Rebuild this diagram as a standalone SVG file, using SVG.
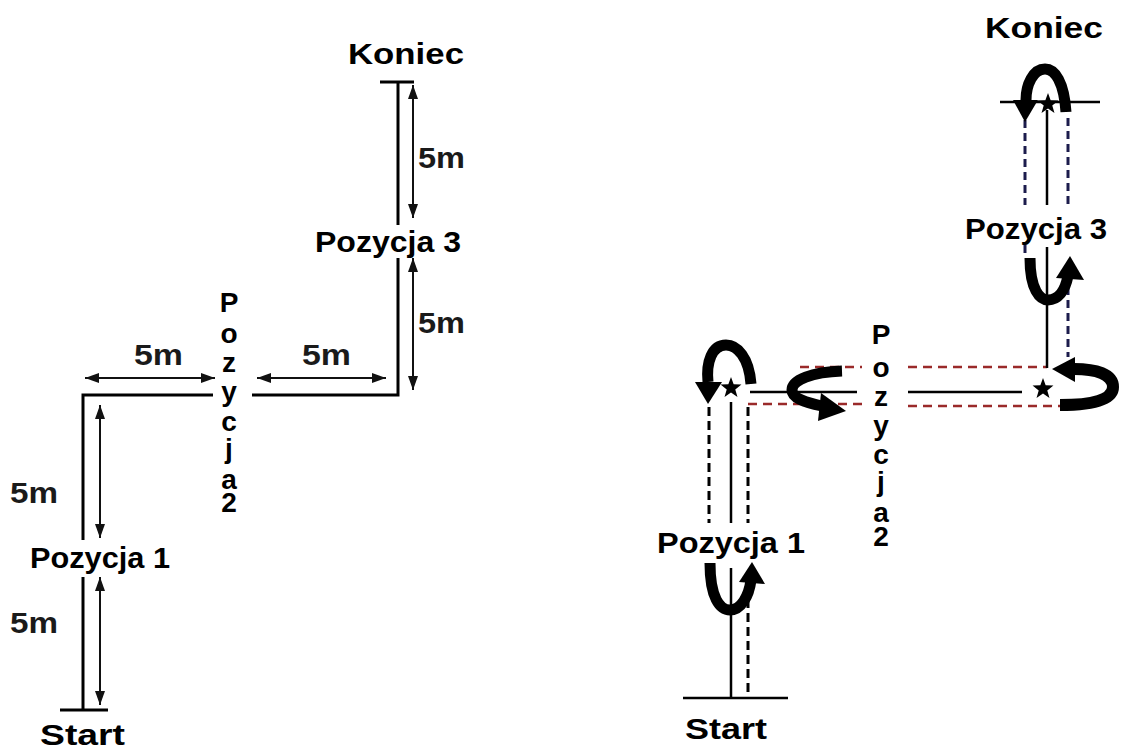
<svg xmlns="http://www.w3.org/2000/svg" xmlns:xlink="http://www.w3.org/1999/xlink" width="1129" height="753" viewBox="0 0 1129 753">
<style>
.t{font-family:"Liberation Sans",Arial,sans-serif;font-weight:bold;font-size:30px;fill:#000}
.m{font-family:"Liberation Sans",Arial,sans-serif;font-weight:bold;font-size:30px;fill:#1a1a1a}
.v{font-family:"Liberation Sans",Arial,sans-serif;font-weight:bold;font-size:28px;fill:#000;text-anchor:middle}
.ln{stroke:#000;stroke-width:3;fill:none}
.ln2{stroke:#000;stroke-width:2.5;fill:none}
.dim{stroke:#111;stroke-width:2;fill:none;marker-start:url(#ah);marker-end:url(#ah)}
.bd{stroke:#000;stroke-width:3;fill:none;stroke-dasharray:9 5}
.nd{stroke:#1c1c4c;stroke-width:3;fill:none;stroke-dasharray:8 5}
.rd{stroke:#9a2a2a;stroke-width:2.5;fill:none;stroke-dasharray:9 6}
.thick{stroke:#000;stroke-width:11;fill:none}
</style>
<defs>
<marker id="ah" viewBox="0 0 14 10" refX="14" refY="5" markerWidth="14" markerHeight="10" markerUnits="userSpaceOnUse" orient="auto-start-reverse"><path d="M0,0 L14,5 L0,10 z" fill="#111"/></marker>
<path id="star" d="M0,-11 L2.65,-3.64 L10.46,-3.4 L4.28,1.39 L6.47,8.9 L0,4.5 L-6.47,8.9 L-4.28,1.39 L-10.46,-3.4 L-2.65,-3.64 Z" fill="#000"/>
</defs>

<!-- LEFT DIAGRAM -->
<g id="connectors-left">
<path class="ln" d="M60 710 H108"/>
<path class="ln" d="M83 710 V577"/>
<path class="ln" d="M83 540 V395 H213"/>
<path class="ln" d="M252 395 H398 V258"/>
<path class="ln" d="M398 225 V82"/>
<path class="ln" d="M380 82 H414"/>
<path class="dim" d="M100 577 V705"/>
<path class="dim" d="M100 405 V538"/>
<path class="dim" d="M85 378 H215"/>
<path class="dim" d="M257 378 H386"/>
<path class="dim" d="M413 258 V390"/>
<path class="dim" d="M413 85 V218"/>
</g>
<g id="labels-left">
<text class="m" x="10" y="503" textLength="48" lengthAdjust="spacingAndGlyphs">5m</text>
<text class="m" x="10" y="633" textLength="48" lengthAdjust="spacingAndGlyphs">5m</text>
<text class="m" x="134" y="365" textLength="49" lengthAdjust="spacingAndGlyphs">5m</text>
<text class="m" x="302" y="365" textLength="49" lengthAdjust="spacingAndGlyphs">5m</text>
<text class="m" x="418" y="168" textLength="47" lengthAdjust="spacingAndGlyphs">5m</text>
<text class="m" x="418" y="333" textLength="47" lengthAdjust="spacingAndGlyphs">5m</text>
</g>
<g id="node-start-left"><text class="t" x="40" y="745" textLength="85" lengthAdjust="spacingAndGlyphs">Start</text></g>
<g id="node-poz1-left"><text class="t" x="30" y="568" textLength="140" lengthAdjust="spacingAndGlyphs">Pozycja 1</text></g>
<g id="node-poz2-left">
<text class="v" x="229" y="312">P</text>
<text class="v" x="229" y="343">o</text>
<text class="v" x="229" y="372">z</text>
<text class="v" x="229" y="401">y</text>
<text class="v" x="229" y="431">c</text>
<text class="v" x="229" y="458">j</text>
<text class="v" x="229" y="489">a</text>
<text class="v" x="229" y="512">2</text>
</g>
<g id="node-poz3-left"><text class="t" x="315" y="252" textLength="146" lengthAdjust="spacingAndGlyphs">Pozycja 3</text></g>
<g id="node-koniec-left"><text class="t" x="348" y="64" textLength="116" lengthAdjust="spacingAndGlyphs">Koniec</text></g>

<!-- RIGHT DIAGRAM -->
<g id="connectors-right">
<path class="ln2" d="M683 698 H788"/>
<path class="ln2" d="M731 698 V568"/>
<path class="ln2" d="M731 523 V402"/>
<path class="bd" d="M709 407 V523"/>
<path class="bd" d="M748 407 V523"/>
<path class="bd" d="M748 585 V698"/>
<path class="ln2" d="M750 392 H857"/>
<path class="ln2" d="M908 392 H1022"/>
<path class="rd" d="M748 404 H862"/>
<path class="rd" d="M800 367 H862"/>
<path class="rd" d="M908 367 H1047"/>
<path class="rd" d="M908 406 H1060"/>
<path class="ln2" d="M1047 368 V247"/>
<path class="ln2" d="M1047 205 V110"/>
<path class="ln2" d="M1000 102 H1100"/>
<path class="nd" d="M1025 120 V205"/>
<path class="nd" d="M1025 245 V258"/>
<path class="nd" d="M1068 118 V205"/>
<path class="nd" d="M1068 287 V357"/>
</g>
<g id="turns-right">
<path class="thick" d="M710 563 C710 598 720 610 730 610 C741 610 749 596 751 580"/>
<polygon points="739,582 752,562 765,584"/>
<path class="thick" d="M751 384 C749 357 737 345 726 345 C712 345 706 362 708 382"/>
<polygon points="695,382 708,404 722,382"/>
<path class="thick" d="M842 371 C812 372 792 380 792 390 C792 398 804 402 822 406"/>
<polygon points="821,393 846,411 818,421"/>
<path d="M1060 405 C1092 405 1113 400 1113 387 C1113 374 1096 369 1074 369" stroke="#000" stroke-width="12" fill="none"/>
<polygon points="1075,357 1052,369 1075,382"/>
<path class="thick" d="M1030 258 C1030 290 1040 300 1048 300 C1058 300 1065 291 1068 276"/>
<polygon points="1056,278 1070,256 1084,280"/>
<path class="thick" d="M1066 112 C1064 82 1055 69 1045 69 C1033 69 1026 85 1026 100"/>
<polygon points="1013,100 1025,122 1038,100"/>
</g>
<g id="stars-right">
<use xlink:href="#star" href="#star" x="731" y="388"/>
<use xlink:href="#star" href="#star" x="1043" y="389"/>
<use xlink:href="#star" href="#star" x="1048" y="104"/>
</g>
<g id="node-start-right"><text class="t" x="685" y="739" textLength="82" lengthAdjust="spacingAndGlyphs">Start</text></g>
<g id="node-poz1-right"><text class="t" x="657" y="553" textLength="148" lengthAdjust="spacingAndGlyphs">Pozycja 1</text></g>
<g id="node-poz2-right">
<text class="v" x="881" y="344">P</text>
<text class="v" x="881" y="377">o</text>
<text class="v" x="881" y="406">z</text>
<text class="v" x="881" y="435">y</text>
<text class="v" x="881" y="464">c</text>
<text class="v" x="881" y="491">j</text>
<text class="v" x="881" y="522">a</text>
<text class="v" x="881" y="546">2</text>
</g>
<g id="node-poz3-right"><text class="t" x="965" y="239" textLength="142" lengthAdjust="spacingAndGlyphs">Pozycja 3</text></g>
<g id="node-koniec-right"><text class="t" x="985" y="38" textLength="118" lengthAdjust="spacingAndGlyphs">Koniec</text></g>
</svg>
